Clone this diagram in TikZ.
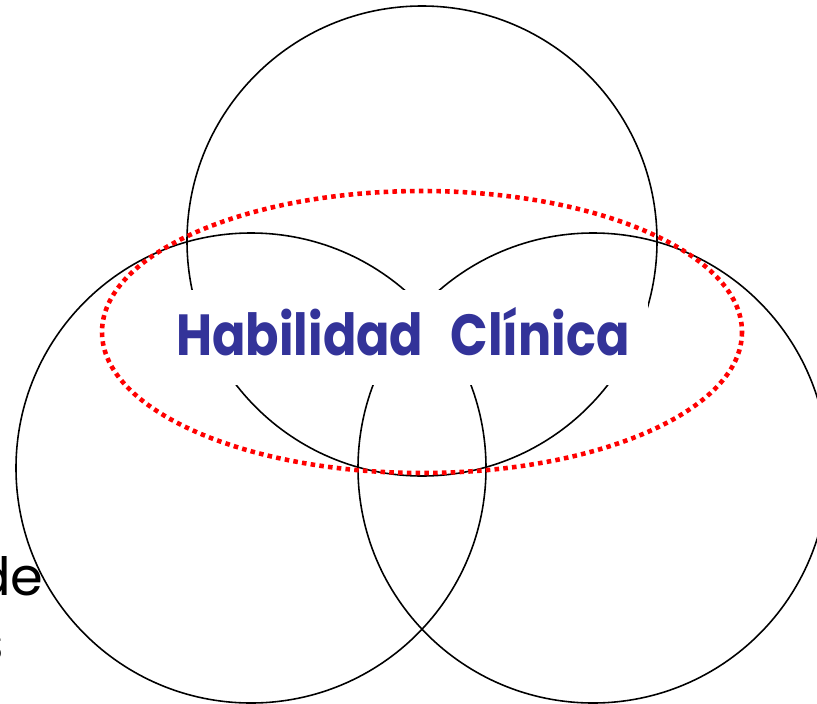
\documentclass[tikz,border=0pt]{standalone}
\usepackage{fontspec}
\newfontfamily\labelfont{Poppins}
\definecolor{txtblue}{HTML}{333399}
\definecolor{dotred}{HTML}{FF0000}
\tikzset{
  ring/.style={draw=black, line width=0.9pt},
  dotring/.style={draw=dotred, line width=2.6pt, dash pattern=on 2.6pt off 2.4pt},
  coverbox/.style={fill=white, draw=none},
  titletext/.style={text=txtblue, font=\labelfont\bfseries\fontsize{33}{38}\selectfont, inner sep=0pt, xscale=0.85},
  sidetext/.style={text=black, font=\labelfont\fontsize{30}{34}\selectfont, inner sep=0pt}
}
\begin{document}
\begin{tikzpicture}[x=0.02cm, y=-0.02cm]
\useasboundingbox (0,0) rectangle (817,703);
% three circles
\draw[ring] (422,241) circle[radius=235];
\draw[ring] (251,468) circle[radius=235];
\draw[ring] (593,468) circle[radius=235];
% white cover behind the title
\fill[coverbox] (170,290) rectangle (648,385);
% title
\node[titletext, anchor=base] (title) at (403,355) {Habilidad\hspace{0.55em}Clínica};
% red dotted ellipse
\draw[dotring] (422,332) ellipse [x radius=320, y radius=141];
% partially visible side text
\node[sidetext, anchor=base east] (de) at (44,595) {de};
\node[sidetext, anchor=base east] (s) at (4,661) {s};
\end{tikzpicture}
\end{document}
